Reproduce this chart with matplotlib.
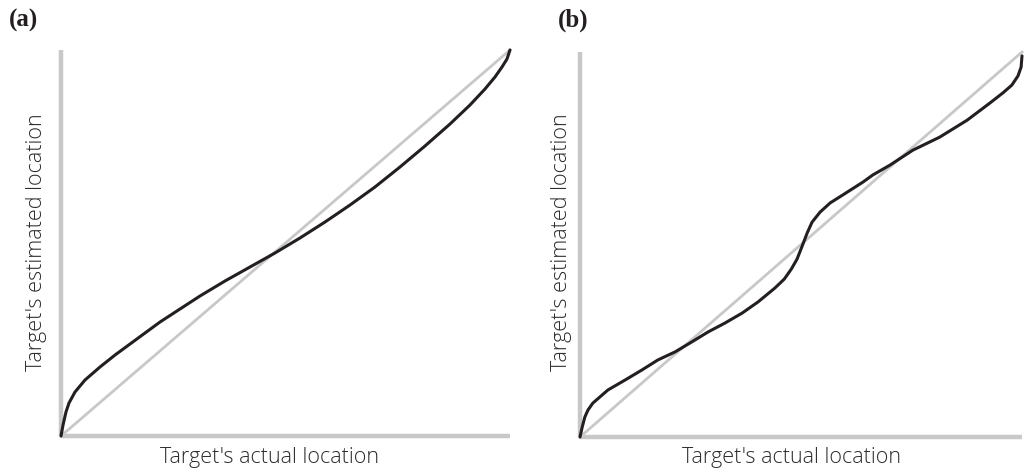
import matplotlib
matplotlib.use("Agg")
import matplotlib.pyplot as plt

# Panel (a) curve (actual vs estimated, 0-100 scale)
a_x = [0, 0.45, 1.11, 1.78, 3.12, 5.35, 8.69, 12.03, 15.37, 18.71, 22.05, 26.50, 30.96, 36.53,
       42.09, 47.66, 53.23, 58.80, 64.37, 69.93, 75.50, 81.07, 86.64, 91.09, 94.43, 96.66,
       98.22, 99.33, 100]
a_y = [0, 2.85, 6.22, 8.55, 11.40, 14.51, 17.88, 20.98, 23.83, 26.68, 29.53, 32.90, 36.27, 40.16,
       43.78, 47.41, 51.30, 55.44, 59.84, 64.51, 69.69, 75.13, 80.83, 85.75, 89.90, 93.01,
       95.60, 97.67, 100]

# Panel (b) curve
b_x = [0, 0.5, 1.1, 1.8, 2.9, 4.5, 6.3, 10.2, 14.0, 17.6, 21.5, 25.3, 29.0, 32.8, 36.7,
       40.3, 44.1, 46.2, 47.8, 49.1, 50.2, 51.4, 52.5, 54.3, 56.6, 59.5, 64.0, 66.3, 70.1,
       75.3, 81.4, 87.6, 92.8, 95.7, 97.7, 99.1, 99.8, 100]
b_y = [0, 2.6, 5.2, 7.0, 8.8, 10.4, 12.2, 14.8, 17.4, 20.0, 22.1, 24.7, 27.3, 29.6, 32.2,
       35.1, 38.7, 41.0, 43.6, 46.2, 49.4, 53.0, 55.8, 58.4, 60.8, 62.9, 66.2, 68.1, 70.6,
       74.5, 77.9, 82.3, 86.8, 89.4, 91.4, 93.8, 96.1, 99.0]

diag = [0, 100]
panel_labels = ["(a)", "(b)"]
x_label = "Target's actual location"
y_label = "Target's estimated location"

GRAY = "#c8c8c8"
BLACK = "#231f20"
TEXT = "#2b2b2b"

fig = plt.figure(figsize=(10.24, 4.70), dpi=100)
W, H = 1024, 470

def make_ax(x0, y0, x1, y1):
    return fig.add_axes([x0 / W, (H - y0) / H, (x1 - x0) / W, (y0 - y1) / H])

ax_a = make_ax(61, 436, 510, 50)
ax_b = make_ax(580, 437, 1022, 52)

for ax, xs, ys in [(ax_a, a_x, a_y), (ax_b, b_x, b_y)]:
    ax.set_xlim(0, 100)
    ax.set_ylim(0, 100)
    ax.patch.set_alpha(0)
    for s in ["top", "right"]:
        ax.spines[s].set_visible(False)
    for s in ["left", "bottom"]:
        ax.spines[s].set_color(GRAY)
        ax.spines[s].set_linewidth(3.2)
        ax.spines[s].set_capstyle("butt")
    ax.set_xticks([])
    ax.set_yticks([])
    ax.plot(diag, diag, color=GRAY, lw=2.0, clip_on=False, zorder=2)
    ax.plot(xs, ys, color=BLACK, lw=2.2, clip_on=False, zorder=3,
            solid_joinstyle="round", solid_capstyle="round")

lab_kw = dict(ha="center", va="center", fontsize=15.5, family="Open Sans",
              fontweight="light", color=TEXT)
fig.text(270 / W, 1 - 457 / H, x_label, **lab_kw)
fig.text(792 / W, 1 - 457 / H, x_label, **lab_kw)
fig.text(37 / W, 1 - 242 / H, y_label, rotation=90, **lab_kw)
fig.text(562 / W, 1 - 242 / H, y_label, rotation=90, **lab_kw)

pl_kw = dict(ha="center", va="center", fontsize=18, family="Liberation Serif",
             fontweight="bold", color="#231f20")
fig.text(23 / W, 1 - 20 / H, panel_labels[0], **pl_kw)
fig.text(573 / W, 1 - 20 / H, panel_labels[1], **pl_kw)

fig.savefig("out.png", dpi=100)
